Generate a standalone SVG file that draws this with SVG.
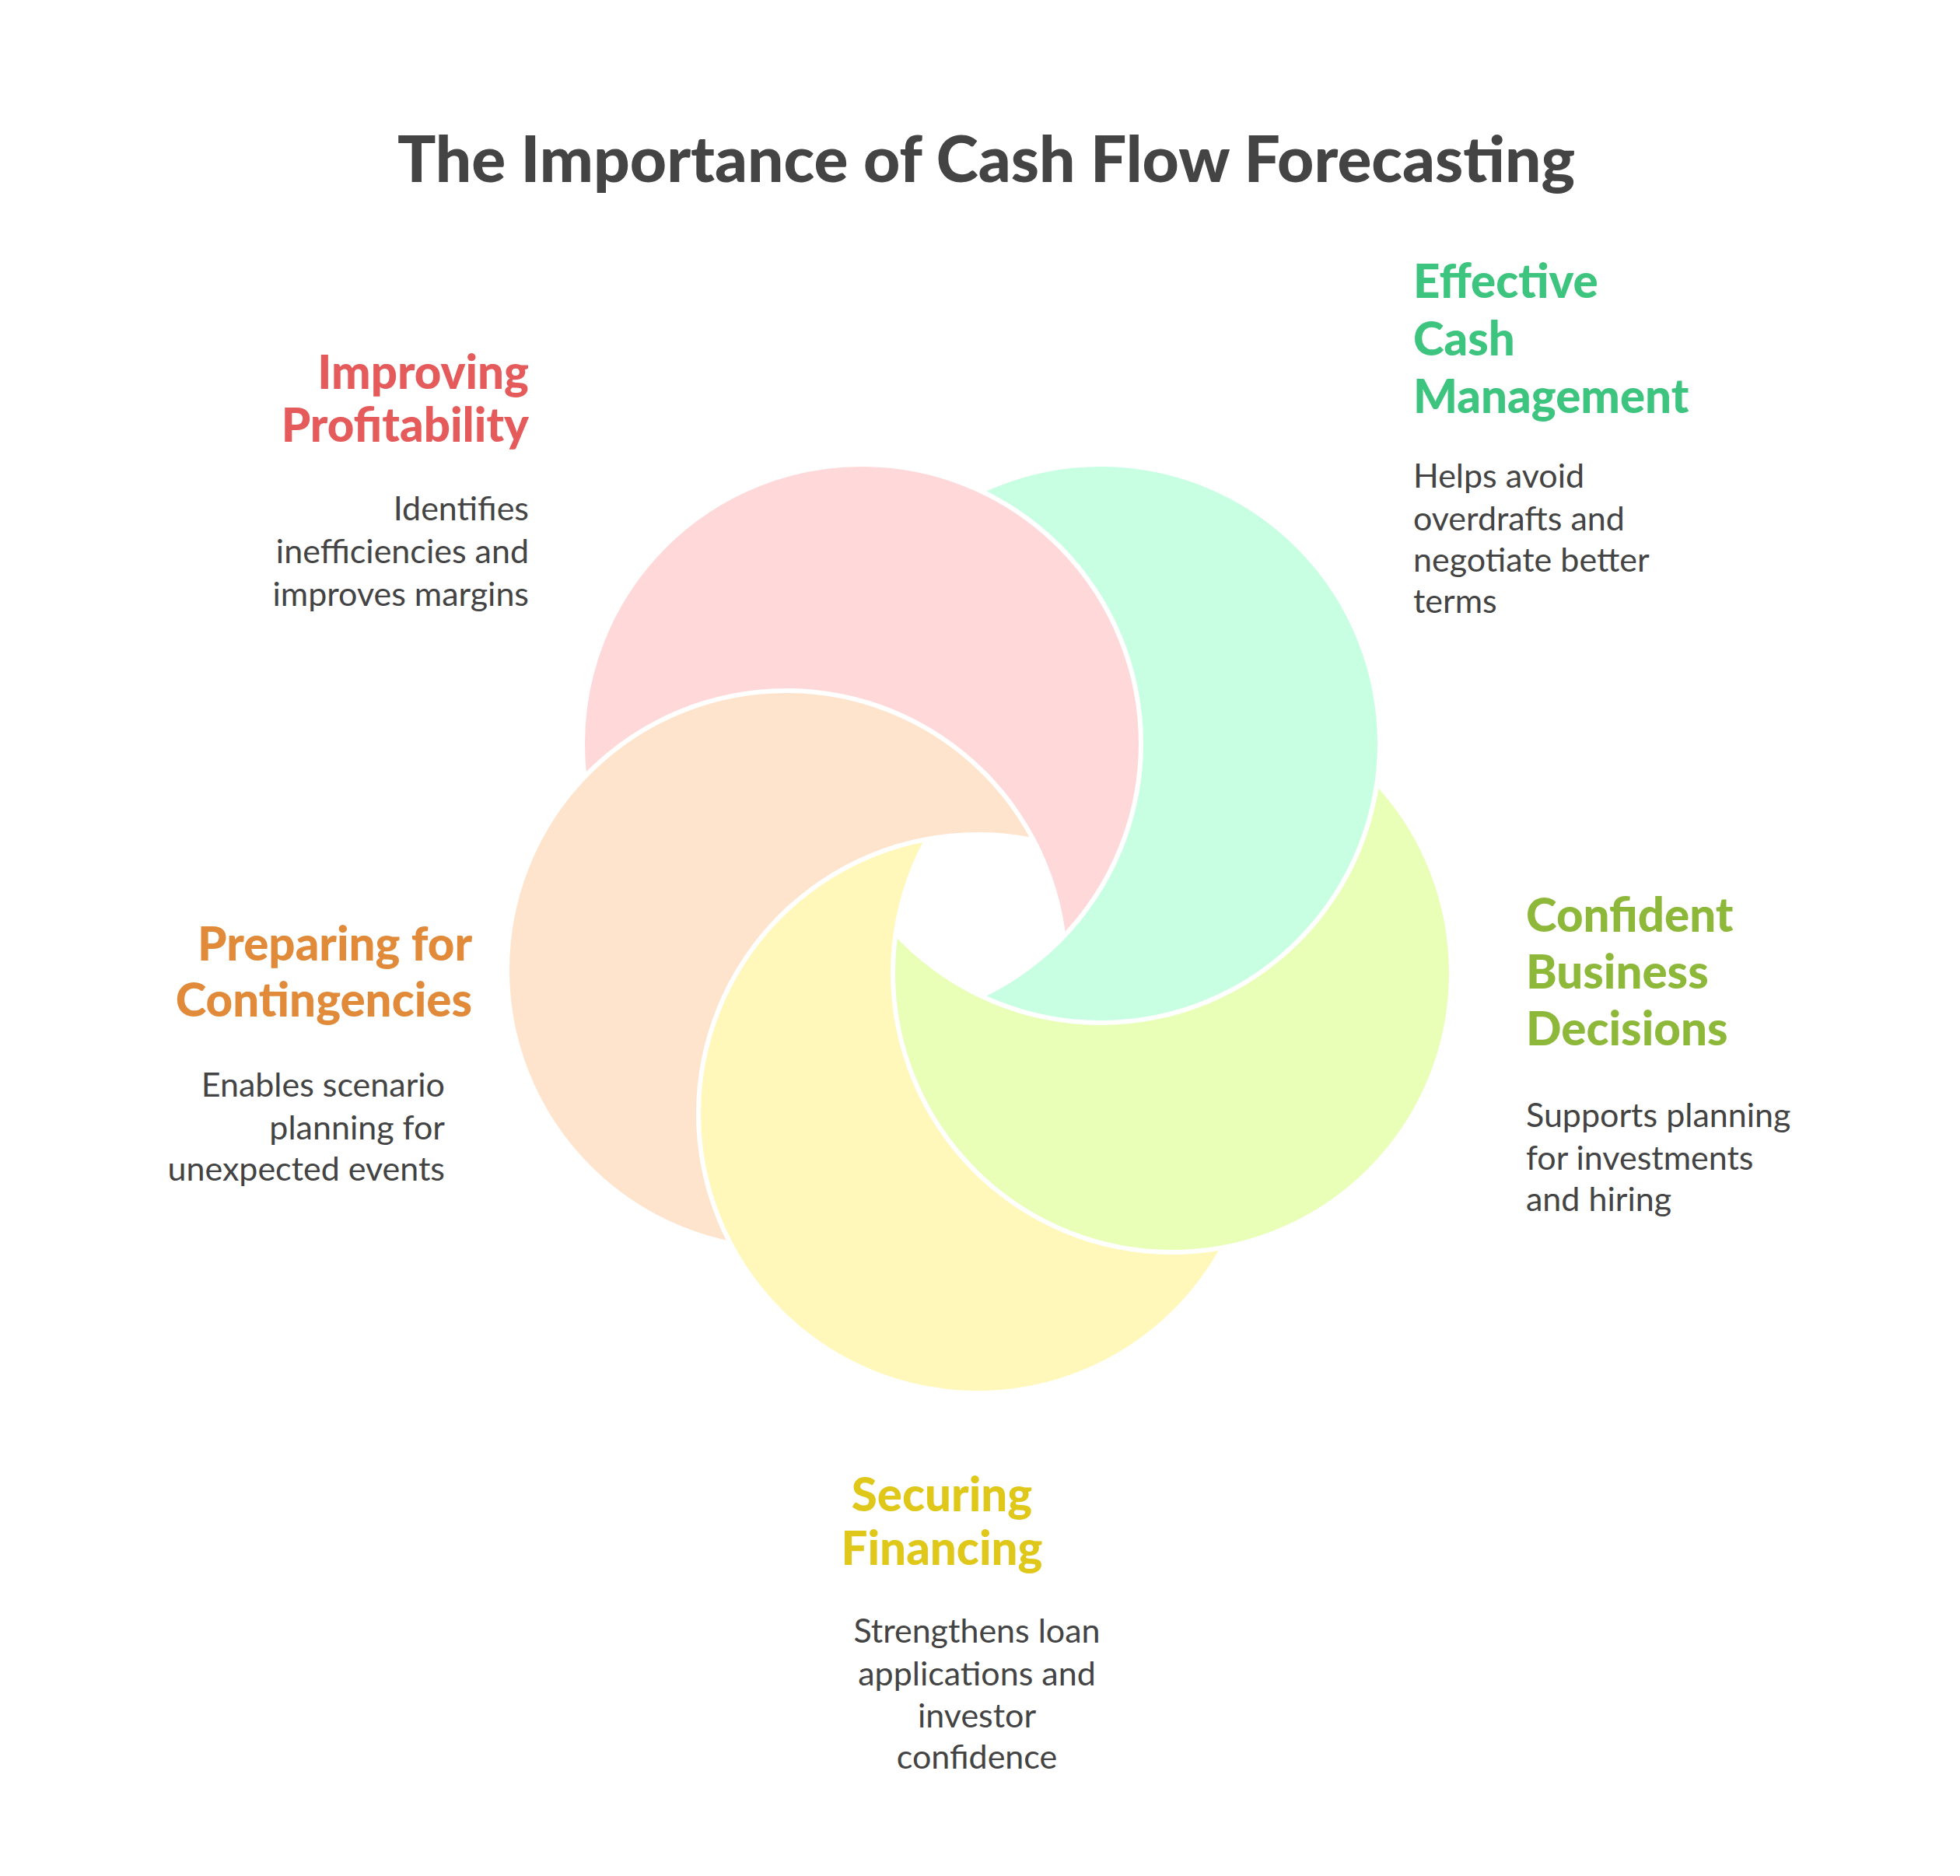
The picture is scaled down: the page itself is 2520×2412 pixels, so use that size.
<svg xmlns="http://www.w3.org/2000/svg" width="2520" height="2412" viewBox="0 0 2520 2412">
<style>
.t{font-family:"Lato","Liberation Sans",sans-serif;font-weight:900;font-size:60px}
.d{font-family:"Lato","Liberation Sans",sans-serif;font-size:43px;fill:#444}
.sh{stroke:#fff;stroke-width:4}
</style>
<defs>
<mask id="mP"><rect width="2520" height="2412" fill="#fff"/><circle cx="1011" cy="1247" r="362" fill="#000"/></mask>
<mask id="mG"><rect width="2520" height="2412" fill="#fff"/><circle cx="1108" cy="956" r="362" fill="#000"/></mask>
<mask id="mL"><rect width="2520" height="2412" fill="#fff"/><circle cx="1415" cy="956" r="362" fill="#000"/></mask>
<mask id="mY"><rect width="2520" height="2412" fill="#fff"/><circle cx="1507" cy="1251" r="362" fill="#000"/></mask>
<mask id="mO"><rect width="2520" height="2412" fill="#fff"/><circle cx="1257" cy="1432" r="362" fill="#000"/></mask>
</defs>
<rect width="2520" height="2412" fill="#fff"/>
<text x="1268" y="234" text-anchor="middle" font-family="Lato,'Liberation Sans',sans-serif" font-weight="900" font-size="82" fill="#444">The Importance of Cash Flow Forecasting</text>
<g id="pink"><circle class="sh" cx="1108" cy="956" r="358" fill="#FFD9D9" mask="url(#mP)"/>
<text class="t" fill="#E55A5A" text-anchor="end"><tspan x="680" y="500">Improving</tspan><tspan x="680" y="568">Profitability</tspan></text>
<text class="d" text-anchor="end"><tspan x="680" y="669">Identifies</tspan><tspan x="680" y="724">inefficiencies and</tspan><tspan x="680" y="779">improves margins</tspan></text></g>
<g id="green"><circle class="sh" cx="1415" cy="956" r="358" fill="#C8FFE3" mask="url(#mG)"/>
<text class="t" fill="#3DC47E"><tspan x="1817" y="383">Effective</tspan><tspan x="1817" y="457">Cash</tspan><tspan x="1817" y="531">Management</tspan></text>
<text class="d"><tspan x="1817" y="627">Helps avoid</tspan><tspan x="1817" y="682">overdrafts and</tspan><tspan x="1817" y="735">negotiate better</tspan><tspan x="1817" y="788">terms</tspan></text></g>
<g id="lime"><circle class="sh" cx="1507" cy="1251" r="358" fill="#E9FFB8" mask="url(#mL)"/>
<text class="t" fill="#8DB83A"><tspan x="1962" y="1198">Confident</tspan><tspan x="1962" y="1271">Business</tspan><tspan x="1962" y="1344">Decisions</tspan></text>
<text class="d"><tspan x="1962" y="1449">Supports planning</tspan><tspan x="1962" y="1504">for investments</tspan><tspan x="1962" y="1557">and hiring</tspan></text></g>
<g id="yellow"><circle class="sh" cx="1257" cy="1432" r="358" fill="#FFF8BA" mask="url(#mY)"/>
<text class="t" fill="#E0C81A" text-anchor="middle"><tspan x="1211" y="1943">Securing</tspan><tspan x="1211" y="2012">Financing</tspan></text>
<text class="d" text-anchor="middle"><tspan x="1256" y="2112">Strengthens loan</tspan><tspan x="1256" y="2167">applications and</tspan><tspan x="1256" y="2221">investor</tspan><tspan x="1256" y="2274">confidence</tspan></text></g>
<g id="orange"><circle class="sh" cx="1011" cy="1247" r="358" fill="#FFE4CD" mask="url(#mO)"/>
<text class="t" fill="#E08A3A" text-anchor="end"><tspan x="607" y="1235">Preparing for</tspan><tspan x="607" y="1307">Contingencies</tspan></text>
<text class="d" text-anchor="end"><tspan x="572" y="1410">Enables scenario</tspan><tspan x="572" y="1465">planning for</tspan><tspan x="572" y="1518">unexpected events</tspan></text></g>
<g id="connectors"/>
</svg>
